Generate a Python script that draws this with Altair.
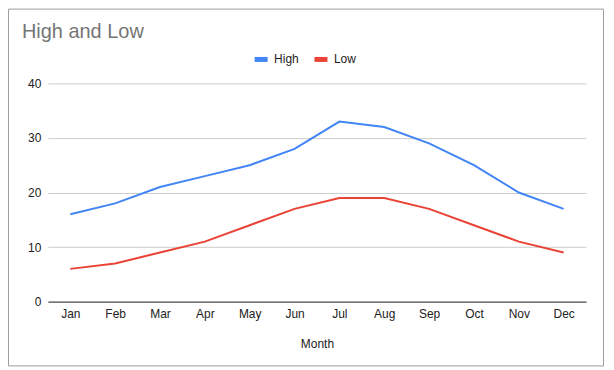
import altair as alt
import pandas as pd

months = ["Jan", "Feb", "Mar", "Apr", "May", "Jun", "Jul", "Aug", "Sep", "Oct", "Nov", "Dec"]
high = [16, 18, 21, 23, 25, 28, 33, 32, 29, 25, 20, 17]
low = [6, 7, 9, 11, 14, 17, 19, 19, 17, 14, 11, 9]
series = ["High", "Low"]
colors = ["#4285F4", "#EA4335"]
y_ticks = [0, 10, 20, 30, 40]

rows = []
for m, h, l in zip(months, high, low):
    rows.append({"Month": m, "Series": "High", "Value": h})
    rows.append({"Month": m, "Series": "Low", "Value": l})
df = pd.DataFrame(rows)

FONT = "Liberation Sans"
W, H = 540, 219

lines = alt.Chart(df).mark_line(strokeWidth=2).encode(
    x=alt.X("Month:N", sort=months,
            scale=alt.Scale(type="point", padding=0.5),
            axis=alt.Axis(title="Month", labelAngle=0, ticks=False, domain=True,
                          domainColor="#333333", domainWidth=1, zindex=1,
                          labelPadding=7, titlePadding=19, labelFontSize=12,
                          titleFontSize=12, titleFontWeight="normal",
                          labelColor="#222222", titleColor="#222222", grid=False)),
    y=alt.Y("Value:Q", scale=alt.Scale(domain=[0, 40]),
            axis=alt.Axis(title=None, values=y_ticks, ticks=False, domain=False,
                          gridColor="#cccccc", labelPadding=7, labelFontSize=12,
                          labelColor="#222222")),
    color=alt.Color("Series:N", scale=alt.Scale(domain=series, range=colors),
                    legend=alt.Legend(title=None, orient="none", direction="horizontal",
                                      legendX=205, legendY=-33,
                                      symbolType="stroke",
                                      symbolSize=169, symbolStrokeWidth=5,
                                      labelOffset=4, columnPadding=5,
                                      labelFontSize=12, labelColor="#222222",
                                      padding=0)),
)

frame = alt.Chart(pd.DataFrame({"a": [0]})).mark_rect(
    fillOpacity=0, stroke="#9e9e9e", strokeWidth=1, clip=False
).encode(
    x=alt.value(-39.5), x2=alt.value(W + 17.5),
    y=alt.value(-74.5), y2=alt.value(H + 64.5),
)

chart = alt.layer(frame, lines).properties(
    width=W, height=H,
    title=alt.TitleParams("High and Low", anchor="start", frame="group",
                          fontSize=20, font=FONT, fontWeight="normal",
                          baseline="alphabetic",
                          color="#757575", dx=-26, offset=-49),
    autosize=alt.AutoSizeParams(type="none"),
    padding={"left": 40, "top": 75, "right": 20, "bottom": 66},
).configure(font=FONT).configure_view(stroke=None)

chart.save("out.html", embed_options={"renderer": "svg", "actions": False})
